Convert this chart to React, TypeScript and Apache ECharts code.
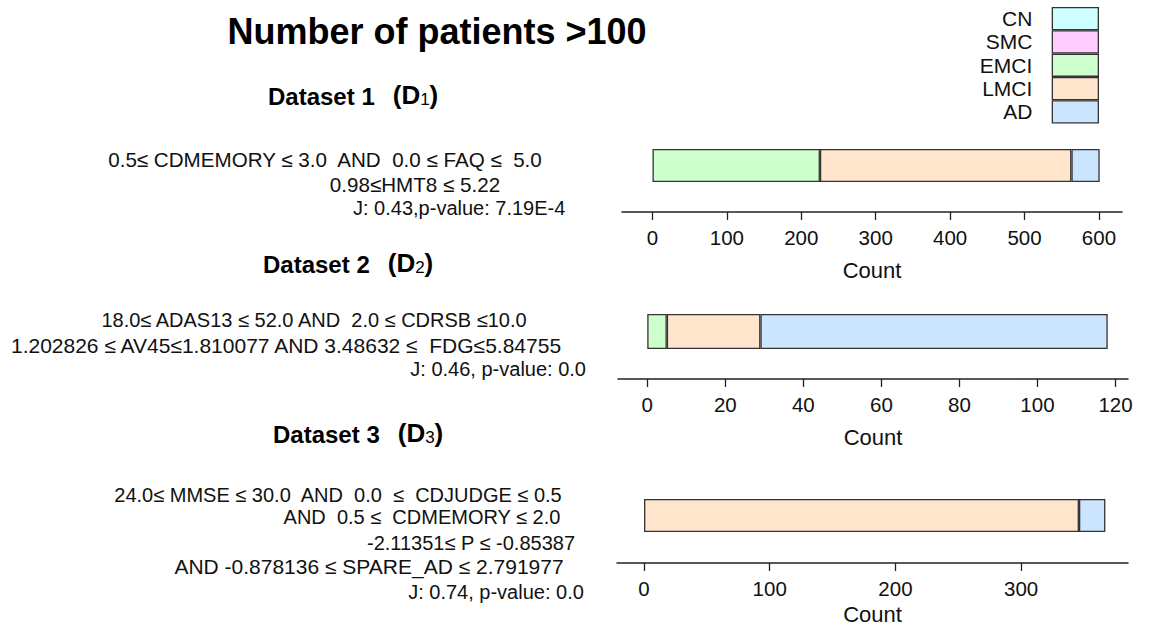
import React, { useEffect, useRef } from 'react';
import * as echarts from 'echarts';

// ---------- data ----------
const categories = ['CN', 'SMC', 'EMCI', 'LMCI', 'AD'];
const categoryColors = ['#CCFFFF', '#FFCCFF', '#CCFFCC', '#FFE5CC', '#CCE5FF'];
const d1Counts = [0, 0, 225, 338, 38];
const d2Counts = [0, 0, 5, 24, 89];
const d3Counts = [0, 0, 0, 346, 21];
const d1Ticks = [0, 100, 200, 300, 400, 500, 600];
const d2Ticks = [0, 20, 40, 60, 80, 100, 120];
const d3Ticks = [0, 100, 200, 300];
const titleText = 'Number of patients >100';
const axisName = 'Count';
const d1Rules = ['0.5\u2264 CDMEMORY \u2264 3.0  AND  0.0 \u2264 FAQ \u2264  5.0', '0.98\u2264HMT8 \u2264 5.22', 'J: 0.43,p-value: 7.19E-4'];
const d2Rules = ['18.0\u2264 ADAS13 \u2264 52.0 AND  2.0 \u2264 CDRSB \u226410.0', '1.202826 \u2264 AV45\u22641.810077 AND 3.48632 \u2264  FDG\u22645.84755', 'J: 0.46, p-value: 0.0'];
const d3Rules = ['24.0\u2264 MMSE \u2264 30.0  AND  0.0  \u2264  CDJUDGE \u2264 0.5', 'AND  0.5 \u2264  CDMEMORY \u2264 2.0', '-2.11351\u2264 P \u2264 -0.85387', 'AND -0.878136 \u2264 SPARE_AD \u2264 2.791977', 'J: 0.74, p-value: 0.0'];

const FONT = '"Liberation Sans", Arial, Helvetica, sans-serif';
const INK = '#111';

// layout per panel
const panels = [
  { counts: d1Counts, ticks: d1Ticks, min: -41, max: 631, grid: { left: 622, width: 500, top: 149, height: 33 }, offset: 30, nameGap: 47, head: { x: 268, y: 93, n: '1' }, rules: d1Rules,
    ruleLayout: [{ x: 325, y: 159, a: 'center', s: 20.6 }, { x: 415, y: 184, a: 'center', s: 20.6 }, { x: 353, y: 208, a: 'left', s: 20 }] },
  { counts: d2Counts, ticks: d2Ticks, min: -7.5, max: 123.2, grid: { left: 618, width: 510, top: 314, height: 35 }, offset: 30, nameGap: 47, head: { x: 263, y: 261, n: '2' }, rules: d2Rules,
    ruleLayout: [{ x: 314, y: 320, a: 'center', s: 20 }, { x: 286, y: 345, a: 'center', s: 21 }, { x: 586, y: 369, a: 'right', s: 20 }] },
  { counts: d3Counts, ticks: d3Ticks, min: -21.5, max: 385, grid: { left: 617, width: 511, top: 499, height: 33 }, offset: 31, nameGap: 40, head: { x: 273, y: 431, n: '3' }, rules: d3Rules,
    ruleLayout: [{ x: 338, y: 495, a: 'center', s: 20 }, { x: 422, y: 517, a: 'center', s: 20 }, { x: 471, y: 543, a: 'center', s: 20 }, { x: 369, y: 566, a: 'center', s: 21 }, { x: 496, y: 592, a: 'center', s: 20 }] },
];

function buildOption() {
  const grid = panels.map((p) => ({ ...p.grid, containLabel: false, outerBoundsMode: 'none' }));
  const xAxis = panels.map((p, i) => ({
    type: 'value', gridIndex: i, min: p.min, max: p.max, position: 'bottom', offset: p.offset,
    splitLine: { show: false },
    axisLine: { show: true, onZero: false, lineStyle: { color: '#222', width: 1.5 } },
    axisTick: { show: true, length: 8, customValues: p.ticks, lineStyle: { color: '#222', width: 1.3 } },
    axisLabel: { customValues: p.ticks, fontSize: 20.5, color: INK, fontFamily: FONT, margin: 15 },
    name: axisName, nameLocation: 'middle', nameGap: p.nameGap, nameMoveOverlap: false,
    nameTextStyle: { fontSize: 22, color: INK, fontFamily: FONT },
  }));
  const yAxis = panels.map((p, i) => ({ type: 'category', gridIndex: i, data: ['n'], show: false }));
  const series: any[] = [];
  panels.forEach((p, i) => {
    categories.forEach((c, k) => {
      series.push({
        type: 'bar', name: c, xAxisIndex: i, yAxisIndex: i, stack: 'p' + i,
        barWidth: '100%', silent: true,
        data: [p.counts[k] > 0 ? p.counts[k] : '-'],
        itemStyle: { color: categoryColors[k], borderColor: '#333', borderWidth: 1.3 },
      });
    });
  });

  const graphics: any[] = [
    { type: 'text', x: 437, y: 31, style: { text: titleText, font: `bold 36px ${FONT}`, fill: '#000', align: 'center', verticalAlign: 'middle' } },
  ];
  panels.forEach((p) => {
    graphics.push({
      type: 'text', x: p.head.x, y: p.head.y,
      style: {
        text: `{b|Dataset ${p.head.n}}{g| }{p|(D}{s|${p.head.n}}{p|)}`,
        fill: '#000', align: 'left', verticalAlign: 'middle',
        rich: {
          b: { fontFamily: FONT, fontWeight: 'bold', fontSize: 24, fill: '#000', verticalAlign: 'bottom', lineHeight: 30 },
          g: { width: 18, fontSize: 24, verticalAlign: 'bottom', lineHeight: 30 },
          p: { fontFamily: FONT, fontWeight: 'bold', fontSize: 26, fill: '#000', verticalAlign: 'bottom', lineHeight: 30 },
          s: { fontFamily: FONT, fontWeight: 'normal', fontSize: 17, fill: '#000', verticalAlign: 'bottom', lineHeight: 26 },
        },
      },
    });
    p.rules.forEach((t, j) => {
      const l = p.ruleLayout[j];
      graphics.push({ type: 'text', x: l.x, y: l.y, style: { text: t, font: `${l.s}px ${FONT}`, fill: INK, align: l.a, verticalAlign: 'middle' } });
    });
  });

  return {
    animation: false,
    backgroundColor: '#fff',
    legend: {
      data: categories, orient: 'vertical', right: 50, top: 7, padding: 0, itemWidth: 46, itemHeight: 22, itemGap: 0,
      align: 'right', icon: 'rect', selectedMode: false,
      itemStyle: { borderColor: '#333', borderWidth: 1.3 },
      textStyle: { fontSize: 21, color: INK, fontFamily: FONT, lineHeight: 22, padding: [0, 15, 0, 0] },
    },
    grid, xAxis, yAxis, series, graphic: graphics,
  };
}

export default function App() {
  const ref = useRef<HTMLDivElement>(null);
  useEffect(() => {
    const chart = echarts.init(ref.current!, null, { renderer: 'svg' });
    chart.setOption(buildOption() as any);
    return () => chart.dispose();
  }, []);
  return <div ref={ref} style={{ position: 'fixed', left: 0, top: 0, width: 1149, height: 628, background: '#fff' }} />;
}
